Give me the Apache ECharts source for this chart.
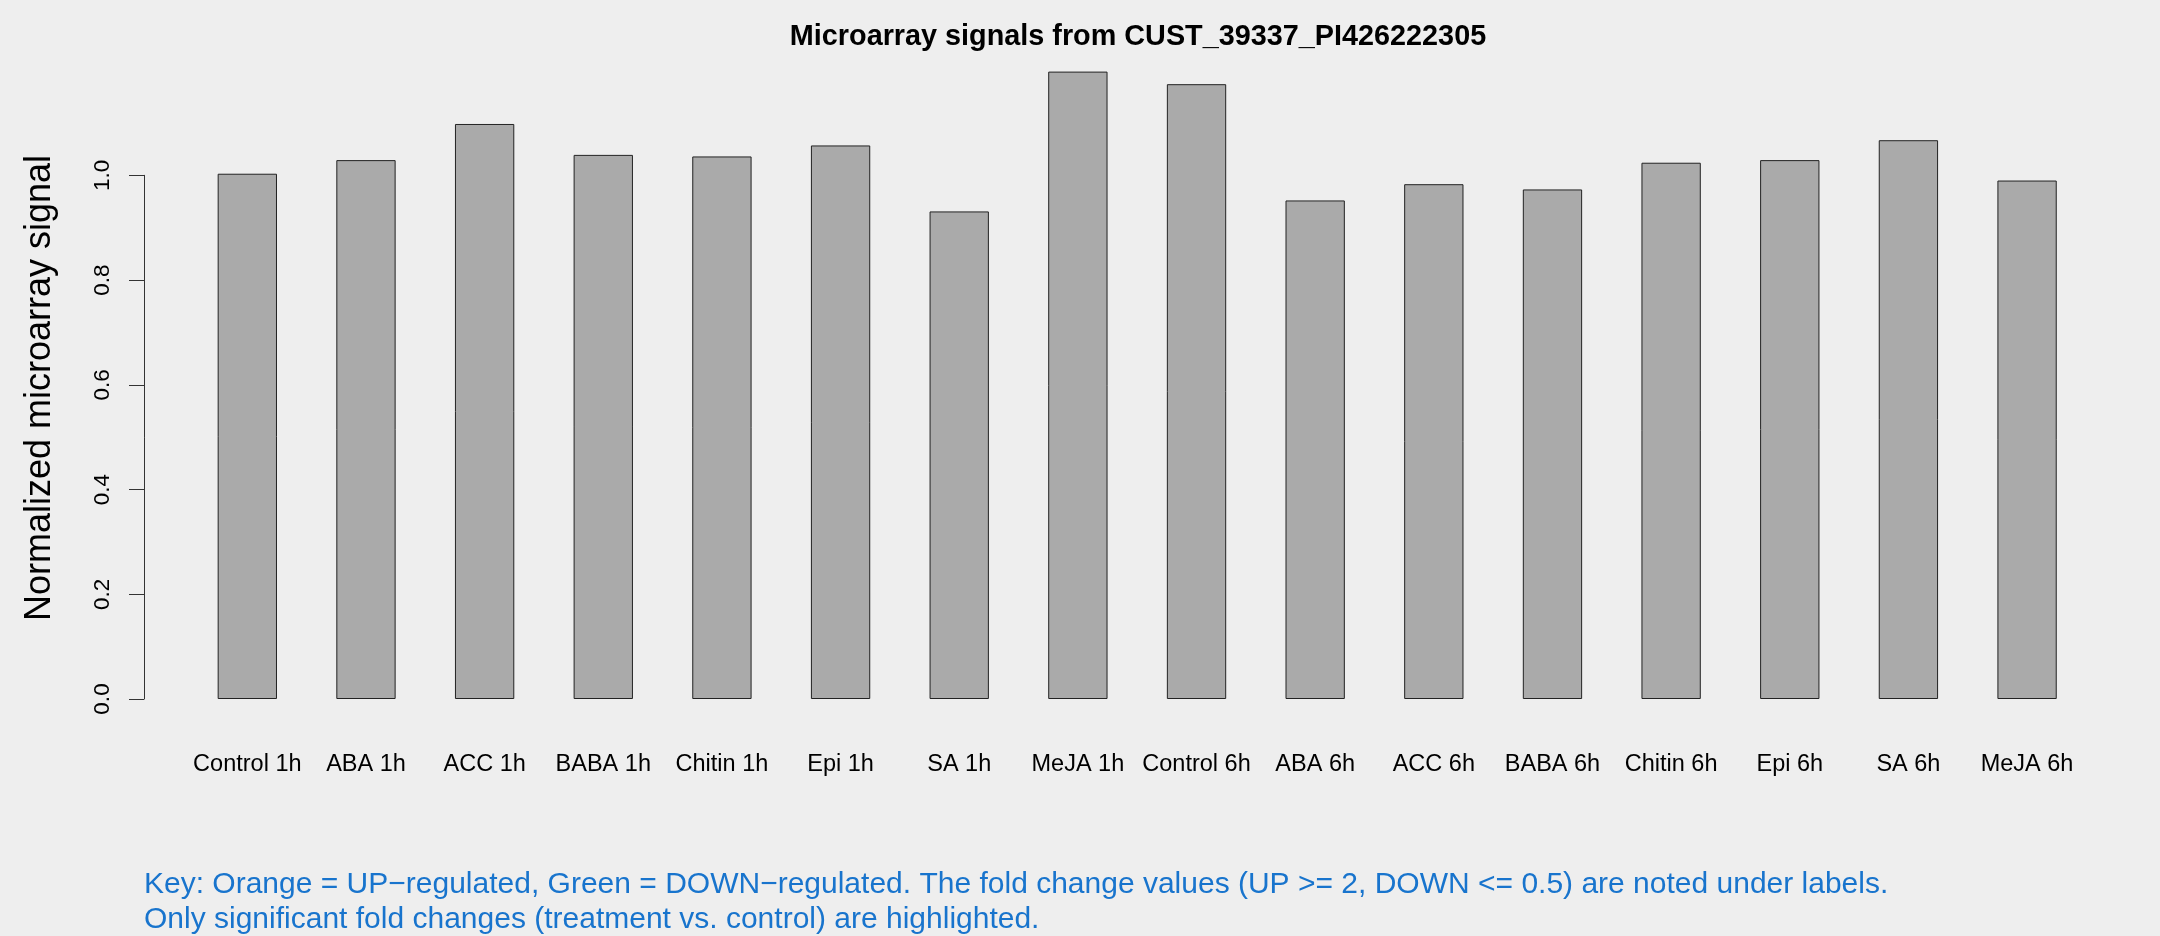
<!DOCTYPE html>
<html>
<head>
<meta charset="utf-8">
<script src="https://cdn.jsdelivr.net/npm/echarts@6/dist/echarts.min.js"></script>
<style>
html,body{margin:0;padding:0;background:#EEEEEE;}
#chart{width:2160px;height:936px;}
</style>
</head>
<body>
<div id="chart"></div>
<script>
const categories = ['Control 1h','ABA 1h','ACC 1h','BABA 1h','Chitin 1h','Epi 1h','SA 1h','MeJA 1h',
                    'Control 6h','ABA 6h','ACC 6h','BABA 6h','Chitin 6h','Epi 6h','SA 6h','MeJA 6h'];
const signalValues = [1.003, 1.029, 1.098, 1.039, 1.036, 1.057, 0.931, 1.198,
                      1.174, 0.952, 0.983, 0.973, 1.024, 1.029, 1.067, 0.990];
const yTickMin = 0;
const yTickMax = 1.0;
const yTickStep = 0.2;
const titleText = 'Microarray signals from CUST_39337_PI426222305';
const yTitleText = 'Normalized microarray signal';
const keyLines = [
  'Key: Orange = UP\u2212regulated, Green = DOWN\u2212regulated. The fold change values (UP >= 2, DOWN <= 0.5) are noted under labels.',
  'Only significant fold changes (treatment vs. control) are highlighted.'
];

const FONT = "'Liberation Sans', Arial, Helvetica, sans-serif";
const chart = echarts.init(document.getElementById('chart'), null, {renderer:'canvas'});

const zeroY = 699, unitPx = 523.7;
const mainMax = 1.25;

chart.setOption({
  backgroundColor: '#EEEEEE',
  animation: false,
  grid: [
    {left: 188, right: 73.6, top: zeroY - mainMax * unitPx, bottom: 936 - zeroY},
    {left: 144, right: 73.6, top: zeroY - yTickMax * unitPx, bottom: 936 - zeroY}
  ],
  xAxis: [
    {
      type: 'category', gridIndex: 0, data: categories,
      axisLine: {show: false}, axisTick: {show: false},
      axisLabel: {interval: 0, color: '#000', fontFamily: FONT, fontSize: 23.5, margin: 54},
      splitLine: {show: false}
    },
    {type: 'value', gridIndex: 1, min: 0, max: 1, show: false}
  ],
  yAxis: [
    {type: 'value', gridIndex: 0, min: 0, max: mainMax, show: false},
    {
      type: 'value', gridIndex: 1, min: yTickMin, max: yTickMax, interval: yTickStep,
      axisLine: {show: true, lineStyle: {color: '#333', width: 1}},
      axisTick: {show: true, inside: false, length: 15, lineStyle: {color: '#333', width: 1}},
      axisLabel: {rotate: 90, color: '#000', fontFamily: FONT, fontSize: 22.5, margin: 30,
                  formatter: v => v.toFixed(1)},
      splitLine: {show: false}
    }
  ],
  series: [{
    type: 'bar', xAxisIndex: 0, yAxisIndex: 0,
    data: signalValues,
    barWidth: '50%',
    itemStyle: {color: '#AAAAAA', borderColor: '#222', borderWidth: 1},
    silent: true
  }],
  graphic: [
    {type: 'text', x: 1138, y: 37,
     style: {text: titleText, font: 'bold 28.8px ' + FONT, fill: '#000',
             textAlign: 'center', textVerticalAlign: 'middle', align: 'center', verticalAlign: 'middle'}},
    {type: 'text', x: 40, y: 388, rotation: Math.PI / 2,
     style: {text: yTitleText, font: '36px ' + FONT, fill: '#000',
             textAlign: 'center', textVerticalAlign: 'middle', align: 'center', verticalAlign: 'middle'}},
    {type: 'text', x: 144, y: 885,
     style: {text: keyLines[0], font: '30px ' + FONT, fill: '#1874CD',
             textAlign: 'left', textVerticalAlign: 'middle', align: 'left', verticalAlign: 'middle'}},
    {type: 'text', x: 144, y: 919.5,
     style: {text: keyLines[1], font: '30px ' + FONT, fill: '#1874CD',
             textAlign: 'left', textVerticalAlign: 'middle', align: 'left', verticalAlign: 'middle'}}
  ]
});
</script>
</body>
</html>
